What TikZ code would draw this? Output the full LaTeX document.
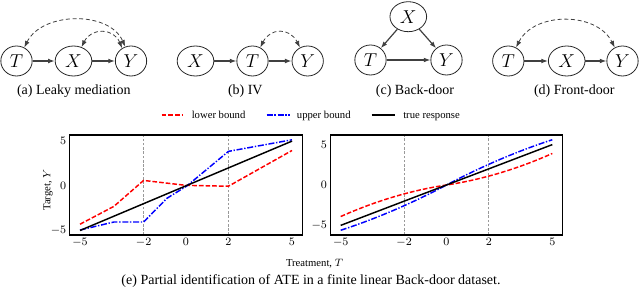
\documentclass[tikz,border=0pt]{standalone}
\usepackage{fix-cm}
\usepackage{fontspec}
\setmainfont{Liberation Serif}
\usetikzlibrary{shapes.geometric,arrows.meta}
\begin{document}
\begin{tikzpicture}[x=0.75pt,y=-0.75pt,
  var/.style={ellipse,draw=black!85,line width=0.6pt,minimum height=22.5pt,minimum width=23.5pt,inner sep=0pt,font=\fontsize{14}{16}\selectfont},
  wide/.style={minimum width=27.5pt},
  edge/.style={draw=black!75,line width=0.9pt,-{Latex[length=5pt,width=3.6pt]}},
  conf/.style={draw=black!75,line width=0.6pt,dash pattern=on 3pt off 2pt,{Latex[length=5pt,width=3.6pt]}-{Latex[length=5pt,width=3.6pt]}},
  subcap/.style={font=\fontsize{10.5}{12}\selectfont,anchor=base,inner sep=0pt},
  legt/.style={font=\fontsize{8}{9}\selectfont,anchor=base west,inner sep=0pt},
  tickl/.style={font=\fontsize{8.5}{10}\selectfont,inner sep=0pt},
  axl/.style={font=\fontsize{8}{9}\selectfont,inner sep=0pt},
  lowerb/.style={red,line width=1.1pt,dash pattern=on 3.5pt off 1.5pt,line join=round},
  upperb/.style={blue,line width=1.1pt,dash pattern=on 4.5pt off 1.3pt on 1pt off 1.3pt,line join=round},
  trueb/.style={black,line width=1.1pt},
  vline/.style={gray!80,line width=0.5pt,dash pattern=on 2pt off 1.2pt},
  frame/.style={black,line width=0.9pt}
]
\useasboundingbox (0,0) rectangle (640,288);

% (a) Leaky mediation
\node[var] (Ta) at (16.5,61) {$T$};
\node[var,wide] (Xa) at (73.5,61) {$X$};
\node[var] (Ya) at (131,61) {$Y$};
\draw[edge] (Ta) -- (Xa);
\draw[edge] (Xa) -- (Ya);
\draw[conf] (Ta.60) .. controls +(18,-36) and +(-16,-36) .. (Ya.112);
\draw[conf] (Xa.60) .. controls +(10,-20) and +(-8,-20) .. (Ya.125);
\node[subcap] (capa) at (73.8,94.3) {(a) Leaky mediation};

% (b) IV
\node[var,wide] (Xb) at (195.5,61) {$X$};
\node[var] (Tb) at (252.5,61) {$T$};
\node[var] (Yb) at (307.7,61) {$Y$};
\draw[edge] (Xb) -- (Tb);
\draw[edge] (Tb) -- (Yb);
\draw[conf] (Tb.60) .. controls +(10,-20) and +(-10,-20) .. (Yb.120);
\node[subcap] (capb) at (245.3,94.3) {(b) IV};

% (c) Back-door
\node[var,wide] (Xc) at (408.3,16.7) {$X$};
\node[var] (Tc) at (370.5,60) {$T$};
\node[var] (Yc) at (446.5,60) {$Y$};
\draw[edge] (Xc) -- (Tc);
\draw[edge] (Xc) -- (Yc);
\draw[edge] (Tc) -- (Yc);
\node[subcap] (capc) at (415,94.3) {(c) Back-door};

% (d) Front-door
\node[var] (Td) at (508.3,61) {$T$};
\node[var,wide] (Xd) at (566.7,61) {$X$};
\node[var] (Yd) at (622.5,61) {$Y$};
\draw[edge] (Td) -- (Xd);
\draw[edge] (Xd) -- (Yd);
\draw[conf] (Td.60) .. controls +(18,-36) and +(-18,-36) .. (Yd.120);
\node[subcap] (capd) at (574.3,94.3) {(d) Front-door};

% legend
\coordinate (l1a) at (161.7,115); \coordinate (l1b) at (182.7,115);
\coordinate (l2a) at (266.7,115); \coordinate (l2b) at (290,115);
\coordinate (l3a) at (371.7,115); \coordinate (l3b) at (395,115);
\draw[lowerb] (l1a) -- (l1b);
\node[legt] (lt1) at (191.5,118.5) {lower bound};
\draw[upperb] (l2a) -- (l2b);
\node[legt] (lt2) at (296.7,118.5) {upper bound};
\draw[trueb] (l3a) -- (l3b);
\node[legt] (lt3) at (403,118.5) {true response};

% left plot
\begin{scope}[shift={(186,185.8)},xscale=21.2,yscale=-8.937]
  \draw[vline] (-2,-5.51) -- (-2,5.68);
  \draw[vline] (2,-5.51) -- (2,5.68);
  \draw[lowerb] plot coordinates {(-5,-4.3) (-3.4,-2.3) (-2,0.6) (0,0.05) (2,-0.05) (5,3.95)};
  \draw[upperb] plot coordinates {(-5,-4.95) (-3.4,-4.05) (-2,-4.05) (-0.9,-1.4) (0.05,0) (2,3.85) (5,5.15)};
  \draw[trueb] (-5,-5) -- (5,5);
  \draw[frame] (-5.5,-5.51) rectangle (5.5,5.68);
  \foreach \v in {-5,-2,0,2,5} \node[tickl,anchor=north,yshift=-2.2pt] at (\v,-5.51) {$\v$};
  \foreach \v in {-5,0,5} \node[tickl,anchor=east,xshift=-2.2pt] at (-5.5,\v) {$\v$};
\end{scope}

% right plot
\begin{scope}[shift={(446.5,185)},xscale=21.16,yscale=-8.078]
  \draw[vline] (-2,-6.19) -- (-2,6.19);
  \draw[vline] (2,-6.19) -- (2,6.19);
  \draw[lowerb] plot[domain=-5:5,samples=51,smooth] (\x,{0.397*\x+0.0767*\x*abs(\x)});
  \draw[upperb] plot[domain=-5:5,samples=51,smooth] (\x,{1.387*\x-0.0533*\x*abs(\x)});
  \draw[trueb] (-5,-5) -- (5,5);
  \draw[frame] (-5.5,-6.19) rectangle (5.5,6.19);
  \foreach \v in {-5,-2,0,2,5} \node[tickl,anchor=north,yshift=-2.2pt] at (\v,-6.19) {$\v$};
  \foreach \v in {-5,0,5} \node[tickl,anchor=east,xshift=-2.2pt] at (-5.5,\v) {$\v$};
\end{scope}

\node[axl,rotate=90] (ylab) at (48,190) {Target, $Y$};
\node[axl] (xlab) at (314.5,264) {Treatment, $T$};
\node[subcap] (cape) at (311,284.3) {(e) Partial identification of ATE in a finite linear Back-door dataset.};
\end{tikzpicture}
\end{document}
